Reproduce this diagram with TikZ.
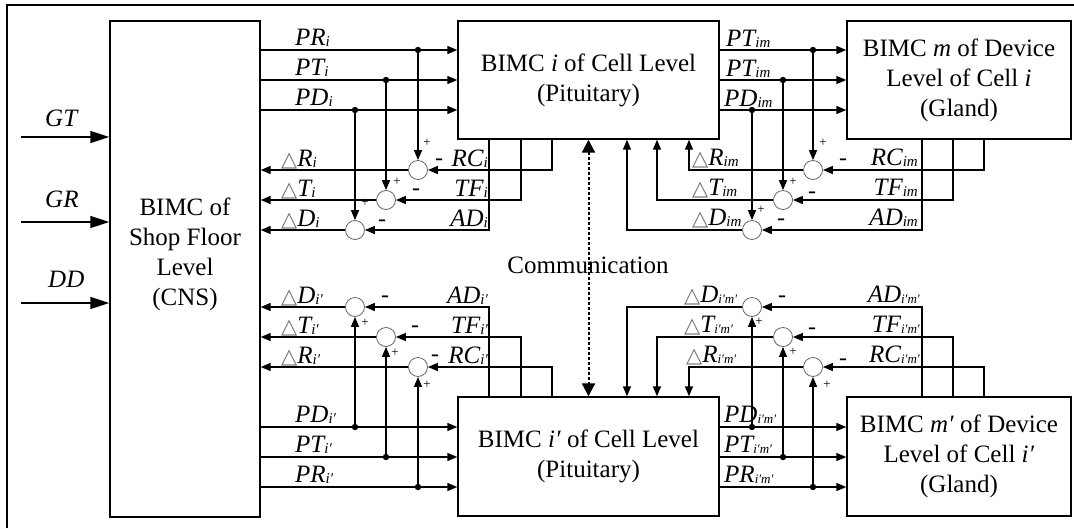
\documentclass[tikz,border=0pt]{standalone}
\usepackage{fontspec}
\setmainfont{Liberation Serif}
\newfontfamily\djv{DejaVu Sans}
\usetikzlibrary{arrows.meta}
\newcommand{\boxfont}{\fontsize{25}{30}\selectfont}
\newcommand{\labfont}{\fontsize{25}{25}\selectfont\itshape}
\newcommand{\dlt}{\textcolor{black!55}{\upshape\djv\fontsize{21}{21}\selectfont △}}
\newcommand{\sbs}[1]{\raisebox{-1.5pt}{\fontsize{15}{15}\selectfont\itshape #1}}
\newcommand{\sbt}[1]{\raisebox{-1.5pt}{\fontsize{13}{13}\selectfont\itshape #1}}
\tikzset{
 sig/.style={line width=1.4pt},
 arr/.style={sig,-{Triangle[length=10pt,width=8pt]}},
 bigarr/.style={sig,-{Triangle[length=19pt,width=12pt]}},
 comm/.style={line width=2pt, dash pattern=on 3pt off 2pt,
   {Triangle[length=13pt,width=13pt]}-{Triangle[length=13pt,width=13pt]}},
 box/.style={draw, line width=1.4pt, align=center, font=\boxfont, inner sep=0pt},
 sumc/.style={circle, draw=black!60, line width=0.8pt, minimum size=19pt, inner sep=0pt},
 lab/.style={font=\labfont, inner sep=0pt},
 mns/.style={font=\fontsize{24}{24}\selectfont, inner sep=0pt},
 pls/.style={font=\fontsize{13}{13}\selectfont, inner sep=0pt},
}
\begin{document}
\begin{tikzpicture}[x=1pt,y=-1pt]
\useasboundingbox (0,0) rectangle (1074,528);
% frame
\draw[line width=2.2pt] (7,528) -- (7,5) -- (1074,5);
% boxes
\node[box, minimum width=150pt, minimum height=496pt] (cns) at (185,269) {};
\node[font=\boxfont, align=center, inner sep=0pt] (cnstxt) at (185,254) {BIMC of\\Shop Floor\\Level\\(CNS)};
\node[box, minimum width=261pt, minimum height=118pt] (cellA) at (588.5,80) {BIMC \textit{i} of Cell Level\\(Pituitary)};
\node[box, minimum width=224pt, minimum height=118pt] (devA) at (959,80) {BIMC \textit{m} of Device\\Level of Cell \textit{i}\\(Gland)};
\node[box, minimum width=261pt, minimum height=119pt] (cellB) at (588.5,456.5) {BIMC \textit{i′} of Cell Level\\(Pituitary)};
\node[box, minimum width=224pt, minimum height=119pt] (devB) at (959,456.5) {BIMC \textit{m′} of Device\\Level of Cell \textit{i′}\\(Gland)};
% summing circles
\node[sumc] (sRA) at (418,170) {};
\node[sumc] (sTA) at (386,200) {};
\node[sumc] (sDA) at (355,230) {};
\node[sumc] (sRAm) at (813,170) {};
\node[sumc] (sTAm) at (783,200) {};
\node[sumc] (sDAm) at (752,230) {};
\node[sumc] (sDB) at (355,307) {};
\node[sumc] (sTB) at (386,337) {};
\node[sumc] (sRB) at (418,367) {};
\node[sumc] (sDBm) at (752,307) {};
\node[sumc] (sTBm) at (783,337) {};
\node[sumc] (sRBm) at (813,367) {};
% junctions
\coordinate (dPRA) at (418,50);
\coordinate (dPTA) at (386,80);
\coordinate (dPDA) at (355,110);
\coordinate (dPTAm1) at (813,50);
\coordinate (dPTAm2) at (783,80);
\coordinate (dPDAm) at (752,110);
\coordinate (dPDB) at (355,427);
\coordinate (dPTB) at (386,457);
\coordinate (dPRB) at (418,487);
\coordinate (dPDBm) at (752,427);
\coordinate (dPTBm) at (783,457);
\coordinate (dPRBm) at (813,487);
% inputs
\coordinate (gtS) at (21,137);
\coordinate (grS) at (21,222);
\coordinate (ddS) at (21,303);
\draw[bigarr] (gtS) -- (cns.west |- gtS);
\draw[bigarr] (grS) -- (cns.west |- grS);
\draw[bigarr] (ddS) -- (cns.west |- ddS);
\node[lab, anchor=base west] (lGT) at (45,126) {GT};
\node[lab, anchor=base west] (lGR) at (45,207) {GR};
\node[lab, anchor=base west] (lDD) at (48,287) {DD};
% ---- upper left
\foreach \d in {dPRA,dPTA,dPDA}{\draw[arr] (cns.east |- \d) -- (cellA.west |- \d);}
\draw[arr] (dPRA) -- (sRA.north);
\draw[arr] (dPTA) -- (sTA.north);
\draw[arr] (dPDA) -- (sDA.north);
\draw[arr] (sRA.west) -- (cns.east |- sRA);
\draw[arr] (sTA.west) -- (cns.east |- sTA);
\draw[arr] (sDA.west) -- (cns.east |- sDA);
\draw[arr] (cellA.south -| 552,0) |- (sRA.east);
\draw[arr] (cellA.south -| 521,0) |- (sTA.east);
\draw[arr] (cellA.south -| 489,0) |- (sDA.east);
% ---- upper right
\foreach \d in {dPTAm1,dPTAm2,dPDAm}{\draw[arr] (cellA.east |- \d) -- (devA.west |- \d);}
\draw[arr] (dPTAm1) -- (sRAm.north);
\draw[arr] (dPTAm2) -- (sTAm.north);
\draw[arr] (dPDAm) -- (sDAm.north);
\draw[arr] (devA.south -| 984,0) |- (sRAm.east);
\draw[arr] (devA.south -| 953,0) |- (sTAm.east);
\draw[arr] (devA.south -| 922,0) |- (sDAm.east);
\draw[arr] (sRAm.west) -| (cellA.south -| 689,0);
\draw[arr] (sTAm.west) -| (cellA.south -| 657,0);
\draw[arr] (sDAm.west) -| (cellA.south -| 627,0);
% ---- lower left
\foreach \d in {dPDB,dPTB,dPRB}{\draw[arr] (cns.east |- \d) -- (cellB.west |- \d);}
\draw[arr] (dPDB) -- (sDB.south);
\draw[arr] (dPTB) -- (sTB.south);
\draw[arr] (dPRB) -- (sRB.south);
\draw[arr] (sDB.west) -- (cns.east |- sDB);
\draw[arr] (sTB.west) -- (cns.east |- sTB);
\draw[arr] (sRB.west) -- (cns.east |- sRB);
\draw[arr] (cellB.north -| 489,0) |- (sDB.east);
\draw[arr] (cellB.north -| 521,0) |- (sTB.east);
\draw[arr] (cellB.north -| 552,0) |- (sRB.east);
% ---- lower right
\foreach \d in {dPDBm,dPTBm,dPRBm}{\draw[arr] (cellB.east |- \d) -- (devB.west |- \d);}
\draw[arr] (dPDBm) -- (sDBm.south);
\draw[arr] (dPTBm) -- (sTBm.south);
\draw[arr] (dPRBm) -- (sRBm.south);
\draw[arr] (devB.north -| 922,0) |- (sDBm.east);
\draw[arr] (devB.north -| 953,0) |- (sTBm.east);
\draw[arr] (devB.north -| 984,0) |- (sRBm.east);
\draw[arr] (sDBm.west) -| (cellB.north -| 627,0);
\draw[arr] (sTBm.west) -| (cellB.north -| 657,0);
\draw[arr] (sRBm.west) -| (cellB.north -| 689,0);
% dots
\foreach \d in {dPRA,dPTA,dPDA,dPTAm1,dPTAm2,dPDAm,dPDB,dPTB,dPRB,dPDBm,dPTBm,dPRBm}{\fill (\d) circle[radius=3.2pt];}
% communication
\draw[comm] (cellA.south) -- (cellB.north);
\node[font=\boxfont, anchor=base, inner sep=0pt] (lcomm) at (588,273) {Communication};
% ---- labels upper left
\node[lab, anchor=base west] (l1) at (295,45) {PR\sbs{i}};
\node[lab, anchor=base west] (l2) at (295,75) {PT\sbs{i}};
\node[lab, anchor=base west] (l3) at (295,105) {PD\sbs{i}};
\node[lab, anchor=base west] (l4) at (281,166) {\dlt R\sbs{i}};
\node[lab, anchor=base west] (l5) at (281,196) {\dlt T\sbs{i}};
\node[lab, anchor=base west] (l6) at (281,226) {\dlt D\sbs{i}};
\node[lab, anchor=base east] (l7) at (488,166) {RC\sbs{i}};
\node[lab, anchor=base east] (l8) at (488,196) {TF\sbs{i}};
\node[lab, anchor=base east] (l9) at (488,226) {AD\sbs{i}};
% upper right
\node[lab, anchor=base west] (m1) at (726,46) {PT\sbs{im}};
\node[lab, anchor=base west] (m2) at (726,76) {PT\sbs{im}};
\node[lab, anchor=base west] (m3) at (724,106) {PD\sbs{im}};
\node[lab, anchor=base west] (m4) at (692,165) {\dlt R\sbs{im}};
\node[lab, anchor=base west] (m5) at (692,195) {\dlt T\sbs{im}};
\node[lab, anchor=base west] (m6) at (692,225) {\dlt D\sbs{im}};
\node[lab, anchor=base east] (m7) at (918,165) {RC\sbs{im}};
\node[lab, anchor=base east] (m8) at (918,195) {TF\sbs{im}};
\node[lab, anchor=base east] (m9) at (918,225) {AD\sbs{im}};
% lower left
\node[lab, anchor=base west] (n1) at (281,303) {\dlt D\sbs{i′}};
\node[lab, anchor=base west] (n2) at (281,333) {\dlt T\sbs{i′}};
\node[lab, anchor=base west] (n3) at (281,363) {\dlt R\sbs{i′}};
\node[lab, anchor=base east] (n4) at (488,303) {AD\sbs{i′}};
\node[lab, anchor=base east] (n5) at (488,333) {TF\sbs{i′}};
\node[lab, anchor=base east] (n6) at (488,363) {RC\sbs{i′}};
\node[lab, anchor=base west] (n7) at (295,422) {PD\sbs{i′}};
\node[lab, anchor=base west] (n8) at (295,452) {PT\sbs{i′}};
\node[lab, anchor=base west] (n9) at (295,482) {PR\sbs{i′}};
% lower right
\node[lab, anchor=base west] (p1) at (684,302) {\dlt D\sbt{i′m′}};
\node[lab, anchor=base west] (p2) at (684,332) {\dlt T\sbt{i′m′}};
\node[lab, anchor=base west] (p3) at (686,362) {\dlt R\sbt{i′m′}};
\node[lab, anchor=base east] (p4) at (920,302) {AD\sbt{i′m′}};
\node[lab, anchor=base east] (p5) at (920,332) {TF\sbt{i′m′}};
\node[lab, anchor=base east] (p6) at (920,362) {RC\sbt{i′m′}};
\node[lab, anchor=base west] (p7) at (724,422) {PD\sbt{i′m′}};
\node[lab, anchor=base west] (p8) at (724,452) {PT\sbt{i′m′}};
\node[lab, anchor=base west] (p9) at (724,482) {PR\sbt{i′m′}};
% minus signs
\node[mns] (mi1) at (439,162) {-};
\node[mns] (mi2) at (416,192) {-};
\node[mns] (mi3) at (382,223) {-};
\node[mns] (mi4) at (843,162) {-};
\node[mns] (mi5) at (812,195) {-};
\node[mns] (mi6) at (781,222) {-};
\node[mns] (mi7) at (385,299) {-};
\node[mns] (mi8) at (415,329) {-};
\node[mns] (mi9) at (435,358) {-};
\node[mns] (mi10) at (782,299) {-};
\node[mns] (mi11) at (812,331) {-};
\node[mns] (mi12) at (843,362) {-};
% plus signs
\node[pls] (pl1) at (427,143) {+};
\node[pls] (pl2) at (397,182) {+};
\node[pls] (pl3) at (365,203) {+};
\node[pls] (pl4) at (823,143) {+};
\node[pls] (pl5) at (793,182) {+};
\node[pls] (pl6) at (761,210) {+};
\node[pls] (pl7) at (365,323) {+};
\node[pls] (pl8) at (395,353) {+};
\node[pls] (pl9) at (427,385) {+};
\node[pls] (pl10) at (759,322) {+};
\node[pls] (pl11) at (793,352) {+};
\node[pls] (pl12) at (827,385) {+};
\end{tikzpicture}
\end{document}
